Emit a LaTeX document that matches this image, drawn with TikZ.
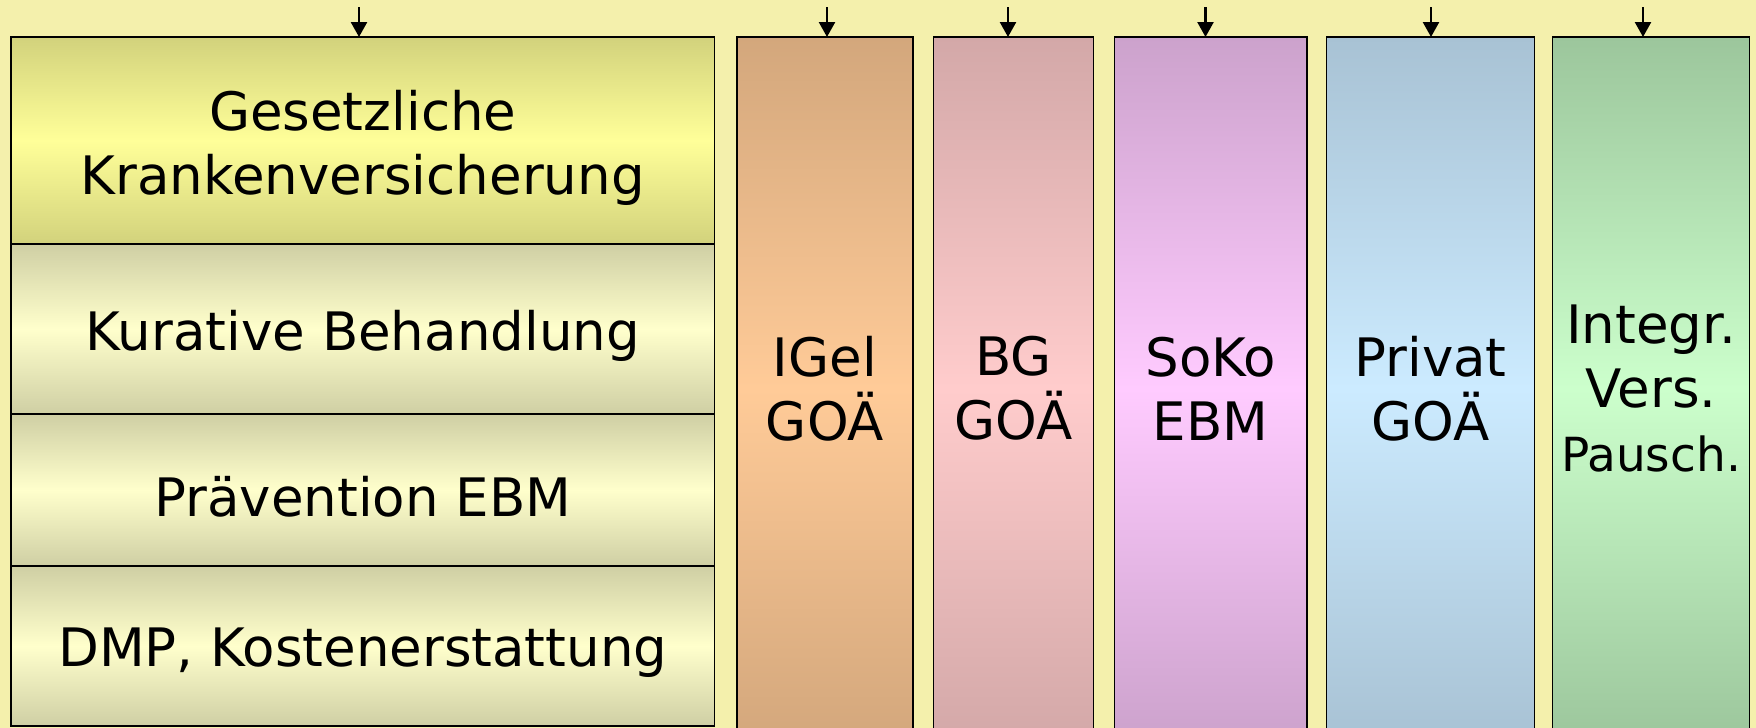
\documentclass[tikz,border=0pt]{standalone}
\usepackage{fontspec}
\setmainfont{DejaVu Sans}
\usetikzlibrary{arrows.meta}
\definecolor{bgc}{HTML}{F4F0AC}
\definecolor{gkvA}{HTML}{D2D27C}
\definecolor{gkvB}{HTML}{FFFF99}
\definecolor{rowA}{HTML}{CFCFA4}
\definecolor{rowB}{HTML}{FFFFCC}
\definecolor{igA}{HTML}{D3A77C}
\definecolor{igB}{HTML}{FFCB98}
\definecolor{bgA}{HTML}{D3A8A8}
\definecolor{bgB}{HTML}{FFCCCC}
\definecolor{soA}{HTML}{CCA2CC}
\definecolor{soB}{HTML}{FFCBFF}
\definecolor{prA}{HTML}{A8C2D4}
\definecolor{prB}{HTML}{CCEBFF}
\definecolor{inA}{HTML}{9CC69C}
\definecolor{inB}{HTML}{CCFFCC}
\tikzset{
  box/.style={draw=black, line width=1.8pt, rectangle, inner sep=0pt, outer sep=0pt,
    align=center, font=\fontsize{53}{64}\selectfont, anchor=north west},
  rowtext/.style={label={[align=center, font=\fontsize{53}{64}\selectfont, yshift=-7pt]center:#1}},
  shadeit/.style n args={2}{top color=#1, bottom color=#1, middle color=#2},
  arr/.style={-{Triangle[length=15pt,width=16pt]}, line width=2.5pt}
}
\begin{document}
\begin{tikzpicture}[x=1pt,y=-1pt]
\useasboundingbox (0,0) rectangle (1756,728);
\fill[bgc] (0,0) rectangle (1756,728);
\begin{scope}
\clip (0,0) rectangle (1756,728);
% left stack
\node[box, shadeit={gkvA}{gkvB}, minimum width=703.5pt, minimum height=207pt,
  rowtext={Gesetzliche\\Krankenversicherung}] (gkv) at (11,37) {};
\node[box, shadeit={rowA}{rowB}, minimum width=703.5pt, minimum height=170pt,
  rowtext={Kurative Behandlung}] (kur) at (11,244) {};
\node[box, shadeit={rowA}{rowB}, minimum width=703.5pt, minimum height=152pt,
  rowtext={Prävention EBM}] (prav) at (11,414) {};
\node[box, shadeit={rowA}{rowB}, minimum width=703.5pt, minimum height=160pt,
  rowtext={DMP, Kostenerstattung}] (dmp) at (11,566) {};
% columns
\node[box, shadeit={igA}{igB}, minimum width=176pt, minimum height=703pt] (igel) at (737,37) {IGel\\GOÄ};
\node[box, shadeit={bgA}{bgB}, minimum width=160pt, minimum height=703pt] (bg) at (933.5,37) {BG\\GOÄ};
\node[box, shadeit={soA}{soB}, minimum width=192.5pt, minimum height=703pt] (soko) at (1114.5,37) {SoKo\\EBM};
\node[box, shadeit={prA}{prB}, minimum width=208pt, minimum height=703pt] (priv) at (1326.5,37) {Privat\\GOÄ};
\node[box, shadeit={inA}{inB}, minimum width=197pt, minimum height=703pt] (integ) at (1552.5,37) {Integr.\\Vers.\\{\fontsize{47}{58}\selectfont Pausch.}};
\end{scope}
% arrows
\coordinate (t0) at (359,7);
\coordinate (t1) at (827,7);
\coordinate (t2) at (1008,7);
\coordinate (t3) at (1205.5,7);
\coordinate (t4) at (1431,7);
\coordinate (t5) at (1643,7);
\draw[arr] (t0) -- (t0 |- gkv.north);
\draw[arr] (t1) -- (t1 |- igel.north);
\draw[arr] (t2) -- (t2 |- bg.north);
\draw[arr] (t3) -- (t3 |- soko.north);
\draw[arr] (t4) -- (t4 |- priv.north);
\draw[arr] (t5) -- (t5 |- integ.north);
\end{tikzpicture}
\end{document}
